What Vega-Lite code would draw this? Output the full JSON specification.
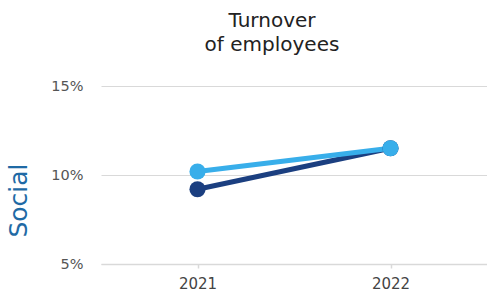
{
  "$schema": "https://vega.github.io/schema/vega-lite/v6.json",
  "autosize": {"type": "none"},
  "padding": {"left": 101, "top": 86, "right": 0, "bottom": 34},
  "width": 386,
  "height": 178,
  "background": "white",
  "config": {
    "view": {"stroke": null},
    "font": "DejaVu Sans"
  },
  "title": {
    "text": ["Turnover", "of employees"],
    "anchor": "middle",
    "dx": -22,
    "offset": 23,
    "fontSize": 20,
    "fontWeight": "normal",
    "color": "#222222",
    "lineHeight": 24
  },
  "data": {
    "values": [
      {"year": "2021", "series": "A", "value": 9.2},
      {"year": "2022", "series": "A", "value": 11.5},
      {"year": "2021", "series": "B", "value": 10.2},
      {"year": "2022", "series": "B", "value": 11.5}
    ]
  },
  "encoding": {
    "x": {
      "field": "year",
      "type": "ordinal",
      "scale": {"paddingInner": 0, "paddingOuter": 0},
      "axis": {
        "title": null,
        "labelAngle": 0,
        "labelFontSize": 15,
        "labelColor": "#444444",
        "labelPadding": 8,
        "domainColor": "#d9d9d9",
        "domainWidth": 1.5,
        "tickColor": "#d9d9d9",
        "tickSize": 4,
        "tickWidth": 1.5,
        "grid": false
      }
    },
    "y": {
      "field": "value",
      "type": "quantitative",
      "scale": {"domain": [5, 15], "nice": false, "zero": false},
      "axis": {
        "title": "Social",
        "titleFontSize": 25,
        "titleFontWeight": "normal",
        "titleColor": "#1f6aa5",
        "titleX": -83,
        "titleY": 114,
        "titleAngle": -90,
        "titleBaseline": "middle",
        "values": [5, 10, 15],
        "labelExpr": "datum.value + '%'",
        "labelFontSize": 14.5,
        "labelColor": "#555555",
        "labelPadding": 18,
        "domain": false,
        "ticks": false,
        "grid": true,
        "gridColor": "#d9d9d9",
        "gridWidth": 1.2
      }
    },
    "color": {
      "field": "series",
      "type": "nominal",
      "scale": {"domain": ["A", "B"], "range": ["#1b3f80", "#38aeea"]},
      "legend": null
    }
  },
  "layer": [
    {"mark": {"type": "line", "strokeWidth": 5}},
    {"mark": {"type": "point", "filled": true, "opacity": 1, "size": 260}}
  ]
}
